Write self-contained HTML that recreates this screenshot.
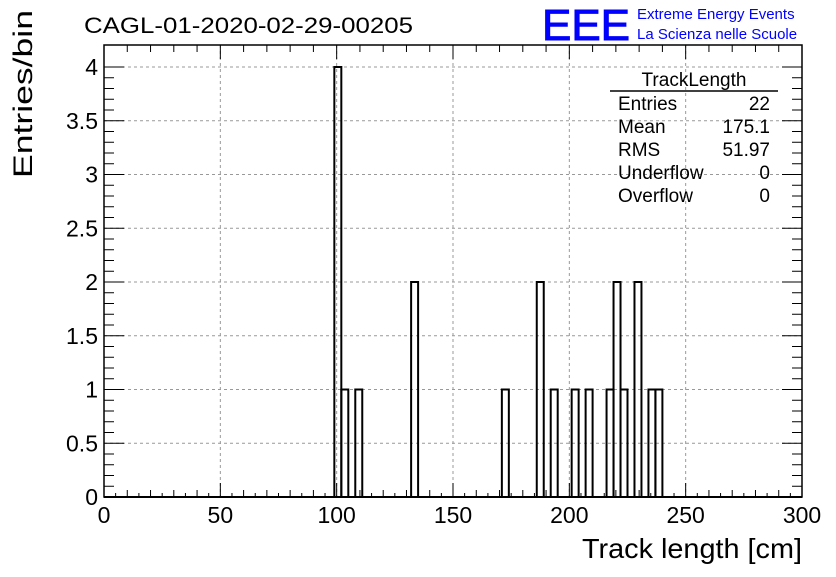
<!DOCTYPE html>
<html><head><meta charset="utf-8"><style>
body{margin:0;background:#fff;font-family:"Liberation Sans",sans-serif;}
</style></head><body>
<svg width="836" height="572" xmlns="http://www.w3.org/2000/svg" font-family="Liberation Sans, sans-serif">
<rect width="836" height="572" fill="#fff"/>
<text x="84" y="33" font-size="22" textLength="329" lengthAdjust="spacingAndGlyphs">CAGL-01-2020-02-29-00205</text>
<g>
<text x="542" y="40" font-size="44" fill="#0000ff" stroke="#0000ff" stroke-width="1" textLength="88" lengthAdjust="spacingAndGlyphs">EEE</text>
<text x="637" y="19" font-size="15" fill="#0000ff">Extreme Energy Events</text>
<text x="637" y="39" font-size="15" fill="#0000ff">La Scienza nelle Scuole</text>
</g>
<g id="grid"></g>
<g id="hist"></g>
<rect x="104" y="45" width="698" height="452" fill="none" stroke="#000" stroke-width="1.5"/>
<g id="axes"></g>
<text x="802" y="558" font-size="28" text-anchor="end" textLength="220" lengthAdjust="spacingAndGlyphs">Track length [cm]</text>
<text transform="translate(32,178) rotate(-90)" font-size="27" textLength="168" lengthAdjust="spacingAndGlyphs">Entries/bin</text>
<g font-size="19">
<text x="694" y="86" text-anchor="middle">TrackLength</text>
<line x1="610" y1="91" x2="778" y2="91" stroke="#000" stroke-width="1.5"/>
<text x="618" y="110">Entries</text><text x="770" y="110" text-anchor="end">22</text>
<text x="618" y="133">Mean</text><text x="770" y="133" text-anchor="end">175.1</text>
<text x="618" y="156">RMS</text><text x="770" y="156" text-anchor="end">51.97</text>
<text x="618" y="179">Underflow</text><text x="770" y="179" text-anchor="end">0</text>
<text x="618" y="202">Overflow</text><text x="770" y="202" text-anchor="end">0</text>
</g>
</svg>
<script>
const binLow=[99,102,108,132,171,186,192,201,207,216,219,222,228,234,237];
const counts=[4,1,1,2,1,2,1,1,1,1,2,1,2,1,1];
const binWidth=3;
const xTicks=[0,50,100,150,200,250,300];
const yTicks=[0,0.5,1,1.5,2,2.5,3,3.5,4];
const NS="http://www.w3.org/2000/svg";
const X0=104,X1=802,Y0=497,Y4=67;
const xs=v=>X0+(v-0)/300*(X1-X0);
const ys=v=>Y0+(Y4-Y0)*v/4;
function mk(tag,attrs,parent){const e=document.createElementNS(NS,tag);for(const k in attrs)e.setAttribute(k,attrs[k]);parent.appendChild(e);return e;}
const grid=document.getElementById('grid'),hist=document.getElementById('hist'),axes=document.getElementById('axes');
xTicks.forEach(t=>{if(t>0&&t<300){const l=mk('line',{x1:xs(t),x2:xs(t),y1:45,y2:497,stroke:'#999','stroke-dasharray':'3,3'},grid);

}});
yTicks.forEach(t=>{if(t>0){const l=mk('line',{x1:104,x2:802,y1:ys(t),y2:ys(t),stroke:'#999','stroke-dasharray':'3,3'},grid);

}});
binLow.forEach((b,i)=>{
 const r=mk('rect',{x:xs(b),y:ys(counts[i]),width:xs(b+binWidth)-xs(b),height:Y0-ys(counts[i]),fill:'none',stroke:'#000','stroke-width':2},hist);
 
 
});
mk('line',{x1:104,x2:802,y1:497,y2:497,stroke:'#000','stroke-width':2},axes);
for(let v=0;v<=300;v+=10){const major=v%50===0;mk('line',{x1:xs(v),x2:xs(v),y1:497,y2:497-(major?14:7),stroke:'#000'},axes);
 mk('line',{x1:xs(v),x2:xs(v),y1:45,y2:45+(major?14:7),stroke:'#000'},axes);}
for(let v=5;v<300;v+=10){mk('line',{x1:xs(v),x2:xs(v),y1:497,y2:493,stroke:'#000'},axes);}
xTicks.forEach(t=>{const tx=mk('text',{x:xs(t),y:523,'font-size':23,'text-anchor':'middle'},axes);tx.textContent=t;

});
for(let i=0;i<=40;i++){const v=i/10;const major=i%5===0;mk('line',{x1:104,x2:104+(major?20:10),y1:ys(v),y2:ys(v),stroke:'#000'},axes);
 mk('line',{x1:802,x2:802-(major?20:10),y1:ys(v),y2:ys(v),stroke:'#000'},axes);}
yTicks.forEach(t=>{const tx=mk('text',{x:98,y:ys(t)+8,'font-size':23,'text-anchor':'end'},axes);tx.textContent=t;

});
</script>
</body></html>
